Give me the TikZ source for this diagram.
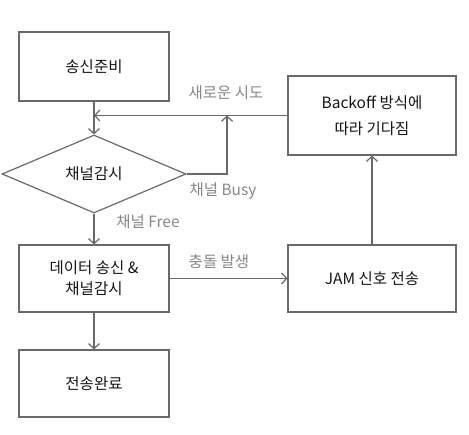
\documentclass[tikz,border=0pt]{standalone}
\usepackage{fontspec}
\setmainfont{Noto Sans CJK KR}
\usetikzlibrary{shapes.geometric,arrows.meta}
\definecolor{linegray}{RGB}{105,105,105}
\definecolor{labelgray}{RGB}{135,135,135}
\definecolor{textdark}{RGB}{20,20,20}
\begin{document}
\begin{tikzpicture}[x=1pt, y=-1pt,
  font=\fontsize{15.5}{21}\selectfont,
  box/.style={draw=linegray, line width=1.2pt, text=textdark, align=center, minimum width=150pt, minimum height=67pt, inner sep=0pt},
  wide/.style={box, minimum width=168pt},
  decide/.style={draw=linegray, line width=1.2pt, text=textdark, shape=diamond, minimum width=184pt, minimum height=78pt, inner sep=0pt},
  arr/.style={-{Straight Barb[length=5pt,width=11pt]}, line width=1.2pt, draw=linegray},
  lbl/.style={text=labelgray}]
\useasboundingbox (0,0) rectangle (469,435);
\node[box, minimum height=69pt] (prep) at (94,66.5) {송신준비};
\node[decide] (sense) at (94,174) {채널감시};
\node[box] (send) at (94,278.5) {데이터 송신 \&\\채널감시};
\node[box] (done) at (94,383.5) {전송완료};
\node[wide, minimum height=79pt] (backoff) at (372,115.5) {Backoff 방식에\\[5pt]따라 기다짐};
\node[wide] (jam) at (372,278.5) {JAM 신호 전송};
\coordinate (join) at (prep.south |- backoff.west);
\coordinate (retry) at (227,115.5);
\node[lbl] (retrylbl) at (226,93) {새로운 시도};
\node[lbl] (busylbl) at (223,191) {채널 Busy};
\node[lbl] (freelbl) at (148,222) {채널 Free};
\node[lbl] (crashlbl) at (219,262) {충돌 발생};
\path [arr] (prep) edge (sense);
\path [arr] (sense) edge (send);
\path [arr] (send) edge (done);
\path [arr] (send) edge (jam);
\path [arr] (jam) edge (backoff);
\path [arr] (backoff) edge (join);
\draw [arr] (sense.east) -| (retry);
\end{tikzpicture}
\end{document}
